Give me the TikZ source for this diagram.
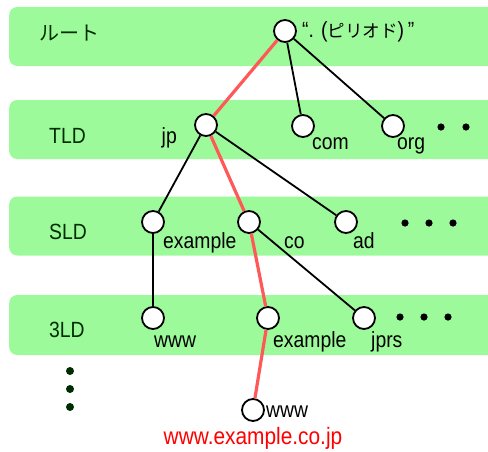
\documentclass[tikz,border=0pt]{standalone}
\usepackage{fontspec}
\setmainfont{Liberation Sans}[FakeStretch=0.88]
\newfontfamily\jpfont{Noto Sans CJK JP}
\usetikzlibrary{positioning}
\definecolor{bandgreen}{RGB}{157,250,155}
\definecolor{lvlgreen}{RGB}{0,45,0}
\definecolor{pathred}{RGB}{255,88,88}
\definecolor{urlred}{RGB}{255,0,0}

\begin{document}
\begin{tikzpicture}[x=1pt, y=-1pt,
  band/.style={fill=bandgreen, rounded corners=8pt, minimum width=520pt,
    minimum height=59pt, anchor=west, inner sep=0pt},
  lvl/.style={text=lvlgreen, anchor=west, inner sep=0pt, font=\fontsize{22}{24}\selectfont},
  dom/.style={circle, draw, line width=1.8pt, fill=white, minimum size=22pt, inner sep=0pt},
  lbl/.style={anchor=base west, inner sep=0pt, font=\fontsize{22}{24}\selectfont},
  link/.style={line width=1.8pt},
  hot/.style={line width=3.2pt, draw=pathred}
]
  \useasboundingbox (0,0) rectangle (488,451);

  \node[band] (b1) at (9,36.5) {};
  \node[band] (b2) at (9,129.5) {};
  \node[band] (b3) at (9,226) {};
  \node[band, minimum height=60pt] (b4) at (9,325) {};

  \node[lvl, right=30pt of b1.west, yshift=3pt, font=\jpfont\fontsize{20}{22}\selectfont] (lroot) {ルート};
  \node[lvl, right=40pt of b2.west, yshift=-6pt] (ltld) {TLD};
  \node[lvl, right=40pt of b3.west, yshift=-5.5pt] (lsld) {SLD};
  \node[lvl, right=40pt of b4.west, yshift=-4.5pt] (l3ld) {3LD};

  \node[dom] (root) at (285,31) {};
  \node[dom] (jp) at (206,125) {};
  \node[dom] (com) at (303,126) {};
  \node[dom] (org) at (393,126) {};
  \node[dom] (ex2) at (153,222) {};
  \node[dom] (co) at (249,222) {};
  \node[dom] (ad) at (346,222) {};
  \node[dom] (www3) at (153,318) {};
  \node[dom] (ex3) at (268,318) {};
  \node[dom] (jprs) at (364,318) {};
  \node[dom] (www4) at (253,410) {};

  \node[lbl, xshift=17pt, yshift=-6pt] (troot) at (root) {“. ({\jpfont\fontsize{17.5}{19}\selectfont ピリオド})\,”};
  \node[lbl, anchor=base east, xshift=-29pt, yshift=-18pt] (tjp) at (jp) {jp};
  \node[lbl, xshift=9pt, yshift=-23pt] (tcom) at (com) {com};
  \node[lbl, xshift=4pt, yshift=-23pt] (torg) at (org) {org};
  \node[lbl, xshift=10pt, yshift=-26pt] (tex2) at (ex2) {example};
  \node[lbl, xshift=35pt, yshift=-26pt] (tco) at (co) {co};
  \node[lbl, xshift=7pt, yshift=-26pt] (tad) at (ad) {ad};
  \node[lbl, xshift=1pt, yshift=-29pt] (twww3) at (www3) {www};
  \node[lbl, xshift=5pt, yshift=-29pt] (tex3) at (ex3) {example};
  \node[lbl, xshift=7pt, yshift=-29pt] (tjprs) at (jprs) {jprs};
  \node[lbl, xshift=13pt, yshift=-7pt] (twww4) at (www4) {www};
  \node[lbl, anchor=base, text=urlred, yshift=-34pt,
    font=\fontsize{23.7}{26}\selectfont] (url) at (www4) {www.example.co.jp};

  \draw[hot] (root) -- (jp);
  \draw[link] (root) -- (com);
  \draw[link] (root) -- (org);
  \draw[link] (jp) -- (ex2);
  \draw[hot] (jp) -- (co);
  \draw[link] (jp) -- (ad);
  \draw[link] (ex2) -- (www3);
  \draw[hot] (co) -- (ex3);
  \draw[link] (co) -- (jprs);
  \draw[hot] (ex3) -- (www4);

  \foreach \x in {441,466} \fill (\x,127) circle (3.6pt);
  \foreach \x in {405,429,453} \fill (\x,223) circle (3.6pt);
  \foreach \x in {400,424,448} \fill (\x,317) circle (3.6pt);
  \foreach \y in {371,389,407} \fill[lvlgreen] (70,\y) circle (4pt);
\end{tikzpicture}
\end{document}
